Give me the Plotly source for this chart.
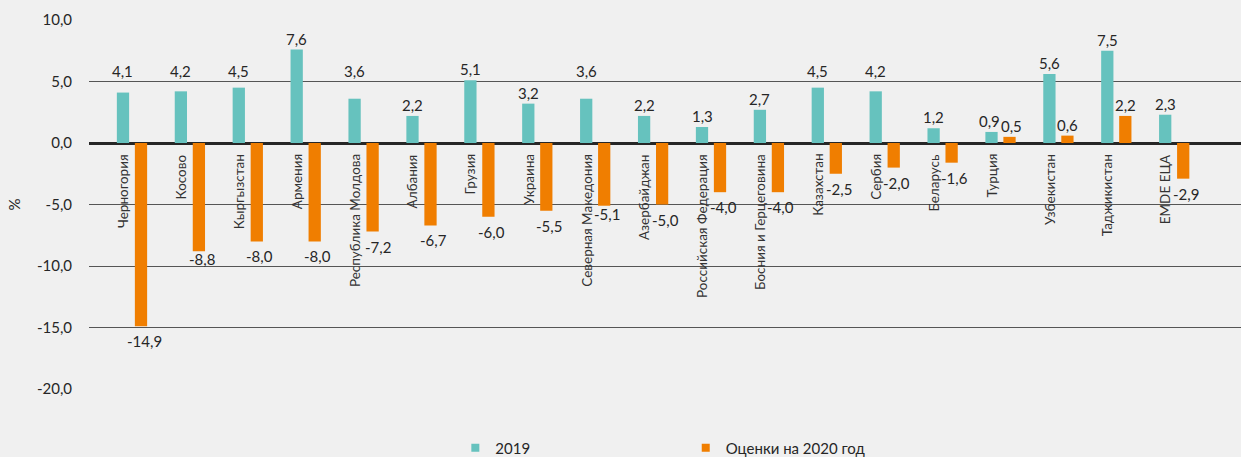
import plotly.graph_objects as go

# Real GDP growth, percent
countries = [
    "Черногория", "Косово", "Кыргызстан", "Армения", "Республика Молдова",
    "Албания", "Грузия", "Украина", "Северная Македония", "Азербайджан",
    "Российская Федерация", "Босния и Герцеговина", "Казахстан", "Сербия",
    "Беларусь", "Турция", "Узбекистан", "Таджикистан", "EMDE ЕЦА",
]
growth_2019 = [4.1, 4.2, 4.5, 7.6, 3.6, 2.2, 5.1, 3.2, 3.6, 2.2,
               1.3, 2.7, 4.5, 4.2, 1.2, 0.9, 5.6, 7.5, 2.3]
growth_2020 = [-14.9, -8.8, -8.0, -8.0, -7.2, -6.7, -6.0, -5.5, -5.1, -5.0,
               -4.0, -4.0, -2.5, -2.0, -1.6, 0.5, 0.6, 2.2, -2.9]
series_names = ["2019", "Оценки на 2020 год"]
y_ticks = [10, 5, 0, -5, -10, -15, -20]
y_tick_text = ["10,0", "5,0", "0,0", "-5,0", "-10,0", "-15,0", "-20,0"]

TEAL = "#66c2be"
ORANGE = "#f07e00"
BG = "#f0f0f0"
INK = "#262626"
FONT = "Lato, Roboto, sans-serif"

# bar geometry in category units (one category = 1.0)
BAR_W = 0.212
OFF_A = -0.262
OFF_B = 0.049
CTR_A = OFF_A + BAR_W / 2
CTR_B = OFF_B + BAR_W / 2

# 2019 labels that sit on a common line instead of on their bar
RAISED_LEVEL = 5.4
raised = {"Черногория", "Косово", "Кыргызстан", "Республика Молдова",
          "Северная Македония", "Казахстан", "Сербия"}
# per-label pixel nudges (dx, dy)
nudge_2019 = {"Турция": (-2, 0)}
nudge_2020 = {"Косово": (3, 7), "Северная Македония": (3, 7),
              "Республика Молдова": (5, 0), "Турция": (2, 0)}


def fmt(v):
    return f"{v:.1f}".replace(".", ",")


def label(x, y, text, anchor, dx=0, dy=0, size=15):
    return dict(x=x, y=y, xref="x", yref="y", text=text, showarrow=False,
                xanchor="center", yanchor=anchor, xshift=dx, yshift=dy,
                font=dict(family=FONT, size=size, color=INK),
                borderwidth=0, borderpad=0)


xs = list(range(len(countries)))

fig = go.Figure()
fig.add_trace(go.Bar(x=xs, y=growth_2019, name=series_names[0], width=BAR_W,
                     offset=OFF_A, marker=dict(color=TEAL, line_width=0),
                     showlegend=False))
fig.add_trace(go.Bar(x=xs, y=growth_2020, name=series_names[1], width=BAR_W,
                     offset=OFF_B, marker=dict(color=ORANGE, line_width=0),
                     showlegend=False))

# legend entries (small square swatches)
fig.add_trace(go.Scatter(x=[None], y=[None], mode="markers", name=series_names[0],
                         marker=dict(symbol="square", size=8, color=TEAL),
                         legend="legend"))
fig.add_trace(go.Scatter(x=[None], y=[None], mode="markers", name=series_names[1],
                         marker=dict(symbol="square", size=8, color=ORANGE),
                         legend="legend2"))

annotations = []
for i, (c, a, b) in enumerate(zip(countries, growth_2019, growth_2020)):
    # country name, rotated, hanging under the zero line
    annotations.append(dict(
        x=i + CTR_A, y=0, xref="x", yref="y", text=c, textangle=-90,
        showarrow=False, xanchor="center", yanchor="top", yshift=-11,
        font=dict(family=FONT, size=13.5, color="#333333"),
        borderwidth=0, borderpad=0))
    # 2019 value
    dx, dy = nudge_2019.get(c, (0, 0))
    if c in raised:
        annotations.append(label(i + CTR_A, RAISED_LEVEL, fmt(a), "bottom", dx, -3 + dy))
    else:
        annotations.append(label(i + CTR_A, a, fmt(a), "bottom", dx, 2 + dy))
    # 2020 value
    dx, dy = nudge_2020.get(c, (0, 0))
    if b >= 0:
        annotations.append(label(i + CTR_B, b, fmt(b), "bottom", dx, 2 + dy))
    else:
        annotations.append(label(i + CTR_B, b, fmt(b), "top", 3 + dx - (3 if dx else 0), -6 + dy))

fig.update_layout(
    width=1241, height=457,
    paper_bgcolor=BG, plot_bgcolor=BG,
    margin=dict(l=89, r=0, t=20, b=68, autoexpand=False),
    barmode="overlay",
    font=dict(family=FONT, color=INK),
    annotations=annotations,
    xaxis=dict(range=[-0.743, 19.153], showticklabels=False, showgrid=False,
               zeroline=False, showline=False, ticks=""),
    yaxis=dict(range=[-20, 10], tickvals=y_ticks, ticktext=y_tick_text,
               showgrid=True, gridcolor="#555555", gridwidth=1.2,
               zeroline=True, zerolinecolor="#262626", zerolinewidth=3,
               showline=False, ticks="", ticklabelstandoff=16,
               tickfont=dict(family=FONT, size=15, color=INK),
               title=dict(text="%", standoff=12,
                          font=dict(family=FONT, size=15, color=INK))),
    legend=dict(orientation="h", x=0.318, y=-0.16, xanchor="left",
                yanchor="middle", bgcolor="rgba(0,0,0,0)",
                font=dict(family=FONT, size=15, color=INK)),
    legend2=dict(orientation="h", x=0.518, y=-0.16, xanchor="left",
                 yanchor="middle", bgcolor="rgba(0,0,0,0)",
                 font=dict(family=FONT, size=15, color=INK)),
)

fig.write_html("out.html")
